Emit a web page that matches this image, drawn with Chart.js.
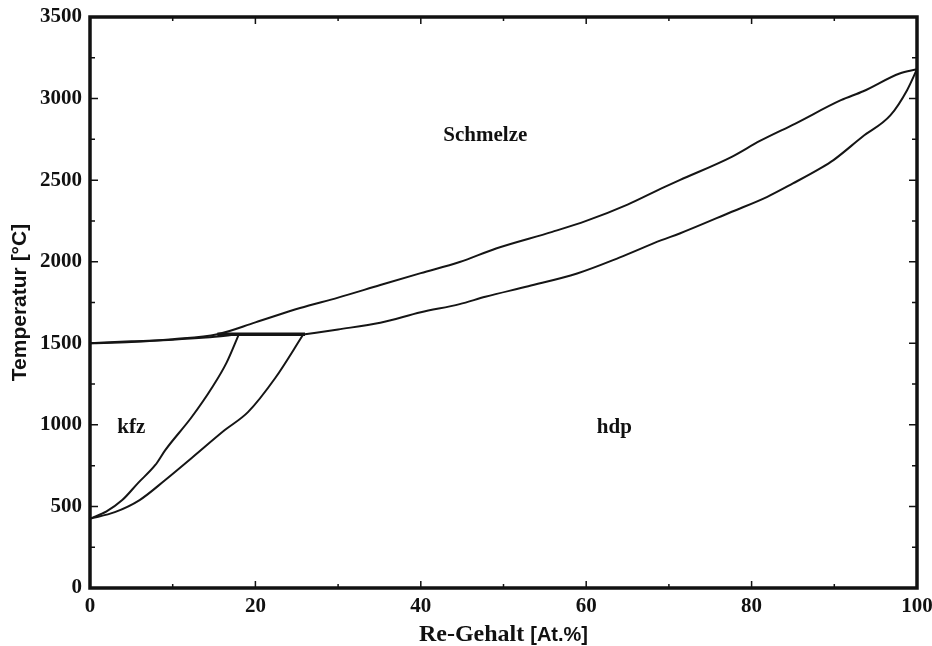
<!DOCTYPE html>
<html>
<head>
<meta charset="utf-8">
<script src="https://cdn.jsdelivr.net/npm/chart.js@4/dist/chart.umd.min.js"></script>
<style>
  html, body { margin: 0; padding: 0; background: #fff; }
  #wrap { width: 932px; height: 646px; }
</style>
</head>
<body>
<div id="wrap"><canvas id="myChart" width="932" height="646"></canvas></div>
<script>
// curves of the Ni-Re phase diagram, [Re at.%, T in °C]
var liquidus = [[0,1500],[5,1508],[10,1525],[15.4,1555],[20,1628],[25.4,1716],[30,1780],[35.1,1857],[40,1930],[44.7,1998],[49.1,2081],[55.9,2183],[60,2250],[65,2350],[69.1,2449],[71.3,2500],[77.6,2643],[81,2740],[85.3,2847],[90.8,2990],[93.5,3045],[97.9,3154],[100,3180]];
var solidusHdp = [[26,1555],[30,1585],[35.1,1626],[40,1690],[44.7,1740],[47.8,1785],[53,1850],[58.9,1928],[64,2025],[69.1,2132],[71.3,2173],[77.6,2306],[81.9,2398],[85,2480],[88.3,2572],[89.9,2623],[93.4,2766],[96.8,2898],[98.8,3051],[100,3180]];
var solidusKfz = [[0,1500],[5,1512],[10,1522],[14,1535],[18,1555]];
var solvusKfz = [[0,425],[2,470],[3.9,539],[5.8,643],[7.9,754],[9.1,845],[12.3,1048],[14.8,1232],[16.5,1380],[18,1555]];
var solvusHdp = [[0,425],[3,465],[6,539],[9.1,662],[12.3,797],[16.3,968],[19.1,1078],[22.4,1287],[25.8,1555]];
var peritectic = [[15.4,1555],[26,1555]];

var xTicks = [0, 20, 40, 60, 80, 100];
var yTicks = [0, 500, 1000, 1500, 2000, 2500, 3000, 3500];

var phaseLabels = ['Schmelze', 'kfz', 'hdp'];
var phaseLabelPos = [[47.8, 2775], [5, 985], [63.4, 985]];

function toPoints(arr) {
    return arr.map(function (p) { return { x: p[0], y: p[1] }; });
}

function curve(arr, width) {
    return {
        data: toPoints(arr),
        showLine: true,
        borderColor: '#151515',
        borderWidth: width,
        pointRadius: 0,
        cubicInterpolationMode: 'monotone',
        fill: false
    };
}

// frame, inner ticks, titles, phase labels
var decor = {
    id: 'decor',
    afterDraw: function (chart) {
        var c = chart.ctx, a = chart.chartArea;
        var xs = chart.scales.x, ys = chart.scales.y;
        c.save();
        c.strokeStyle = '#111';
        c.lineWidth = 1.5;
        c.beginPath();
        for (var v = 0; v <= 3500; v += 250) {
            var py = ys.getPixelForValue(v);
            var len = (v % 500 === 0) ? 8 : 5;
            c.moveTo(a.left, py); c.lineTo(a.left + len, py);
            c.moveTo(a.right, py); c.lineTo(a.right - len, py);
        }
        for (var u = 0; u <= 100; u += 10) {
            var px = xs.getPixelForValue(u);
            var l2 = (u % 20 === 0) ? 7 : 4;
            c.moveTo(px, a.bottom); c.lineTo(px, a.bottom - l2);
            c.moveTo(px, a.top); c.lineTo(px, a.top + l2);
        }
        c.stroke();

        c.lineWidth = 3.5;
        c.strokeRect(a.left, a.top, a.right - a.left, a.bottom - a.top);

        // phase labels
        c.fillStyle = '#111';
        c.font = 'bold 21px "Liberation Serif"';
        c.textAlign = 'center';
        c.textBaseline = 'middle';
        for (var i = 0; i < phaseLabels.length; i++) {
            c.fillText(phaseLabels[i], xs.getPixelForValue(phaseLabelPos[i][0]), ys.getPixelForValue(phaseLabelPos[i][1]));
        }

        // x title: serif part + sans part
        c.textAlign = 'left';
        c.textBaseline = 'alphabetic';
        var p1 = 'Re-Gehalt ', p2 = '[At.%]';
        c.font = 'bold 24px "Liberation Serif"';
        var w1 = c.measureText(p1).width;
        c.font = 'bold 20px "Liberation Sans"';
        var w2 = c.measureText(p2).width;
        var x0 = (a.left + a.right) / 2 - (w1 + w2) / 2;
        c.font = 'bold 24px "Liberation Serif"';
        c.fillText(p1, x0, 641);
        c.font = 'bold 20px "Liberation Sans"';
        c.fillText(p2, x0 + w1, 641);

        // y title
        c.translate(20, (a.top + a.bottom) / 2);
        c.rotate(-Math.PI / 2);
        c.textAlign = 'center';
        c.textBaseline = 'middle';
        c.font = 'bold 21px "Liberation Sans"';
        c.fillText('Temperatur [°C]', 0, 0);
        c.restore();
    }
};

var tickFont = { family: 'Liberation Serif', size: 21, weight: 'bold' };

var ctx = document.getElementById('myChart').getContext('2d');
var myChart = new Chart(ctx, {
    type: 'scatter',
    data: {
        datasets: [
            curve(liquidus, 2),
            curve(solidusHdp, 2),
            curve(solidusKfz, 2),
            curve(solvusKfz, 2),
            curve(solvusHdp, 2),
            curve(peritectic, 3.5)
        ]
    },
    options: {
        responsive: false,
        animation: false,
        layout: { padding: { top: 17, right: 15, left: 0, bottom: 0 } },
        plugins: { legend: { display: false }, tooltip: { enabled: false } },
        scales: {
            x: {
                type: 'linear', min: 0, max: 100,
                afterFit: function (s) { s.height = 58; s.paddingRight = 0; s.paddingLeft = 0; },
                afterBuildTicks: function (s) { s.ticks = xTicks.map(function (v) { return { value: v }; }); },
                grid: { display: false, drawTicks: false },
                border: { display: false },
                ticks: { padding: 6, color: '#111', font: tickFont, callback: function (v) { return String(v); } }
            },
            y: {
                type: 'linear', min: 0, max: 3500,
                afterFit: function (s) { s.width = 90; s.paddingTop = 0; s.paddingBottom = 0; },
                afterBuildTicks: function (s) { s.ticks = yTicks.map(function (v) { return { value: v }; }); },
                grid: { display: false, drawTicks: false },
                border: { display: false },
                ticks: { padding: 8, color: '#111', font: tickFont, callback: function (v) { return String(v); } }
            }
        }
    },
    plugins: [decor]
});
</script>
</body>
</html>
